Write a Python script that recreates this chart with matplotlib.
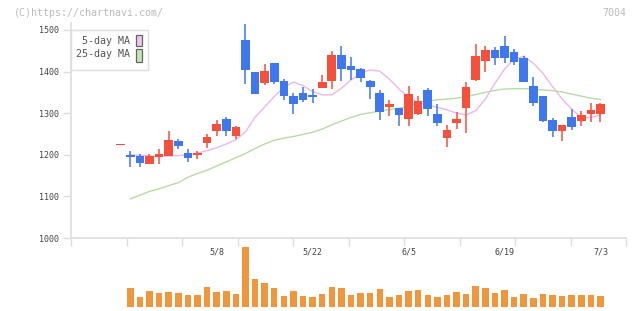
import matplotlib.pyplot as plt
import numpy as np
from matplotlib.patches import Rectangle

# daily candles, index -1 .. 49 (4/19 .. 7/3)
opens = [1223, 1200, 1198, 1179, 1195, 1198, 1233, 1204, 1200, 1229, 1257,
         1286, 1244, 1476, 1399, 1373, 1421, 1377, 1341, 1349, 1344,
         1361, 1377, 1440, 1413, 1406, 1377, 1349, 1316, 1312, 1286,
         1298, 1356, 1298, 1240, 1276, 1312, 1380, 1425, 1452, 1461,
         1447, 1433, 1365, 1341, 1284, 1257, 1291, 1281, 1298, 1298]
highs = [1223, 1209, 1202, 1201, 1214, 1257, 1238, 1214, 1208, 1250, 1283,
         1290, 1269, 1514, 1399, 1418, 1421, 1383, 1349, 1363, 1358,
         1392, 1450, 1461, 1435, 1409, 1380, 1356, 1332, 1312, 1365,
         1341, 1361, 1322, 1272, 1303, 1375, 1466, 1461, 1459, 1485,
         1454, 1437, 1387, 1341, 1288, 1272, 1310, 1305, 1325, 1325]
lows = [1223, 1171, 1171, 1179, 1179, 1198, 1215, 1183, 1189, 1217, 1244,
        1246, 1238, 1370, 1346, 1368, 1370, 1332, 1298, 1327, 1324,
        1361, 1358, 1377, 1380, 1375, 1334, 1284, 1293, 1269, 1269,
        1296, 1293, 1269, 1219, 1262, 1252, 1377, 1399, 1416, 1421,
        1416, 1375, 1317, 1279, 1243, 1233, 1260, 1269, 1279, 1279]
closes = [1223, 1195, 1181, 1197, 1203, 1236, 1222, 1193, 1201, 1243, 1274,
          1257, 1267, 1404, 1346, 1401, 1376, 1342, 1322, 1332, 1339,
          1375, 1440, 1406, 1404, 1385, 1363, 1303, 1322, 1296, 1346,
          1329, 1310, 1276, 1260, 1286, 1363, 1437, 1452, 1433, 1433,
          1423, 1375, 1325, 1281, 1257, 1272, 1267, 1296, 1308, 1322]
volumes = [np.nan, 56, 29, 47, 41, 44, 41, 35, 35, 59, 44,
           47, 38, 182, 83, 71, 56, 32, 47, 32, 29,
           38, 59, 56, 35, 41, 41, 53, 29, 35, 47,
           50, 35, 29, 35, 44, 38, 62, 56, 41, 50,
           29, 38, 26, 38, 35, 32, 35, 35, 35, 32]

ma5 = [np.nan, 1200, 1199, 1197, 1196, 1197, 1198, 1200, 1204, 1210, 1217,
       1226, 1236, 1255, 1290, 1315, 1340, 1362, 1375, 1366, 1352,
       1344, 1344, 1360, 1380, 1396, 1404, 1401, 1382, 1358, 1338,
       1325, 1320, 1314, 1308, 1300, 1296, 1306, 1334, 1372, 1406,
       1430, 1437, 1420, 1396, 1364, 1334, 1310, 1289, 1290, 1296]
ma25 = [np.nan, 1094, 1103, 1112, 1118, 1126, 1133, 1146, 1155, 1163, 1173,
        1183, 1193, 1203, 1215, 1226, 1235, 1240, 1244, 1249, 1254,
        1262, 1272, 1281, 1290, 1297, 1301, 1305, 1309, 1312, 1317,
        1327, 1330, 1332, 1334, 1336, 1340, 1345, 1350, 1355, 1358,
        1359, 1359, 1358, 1356, 1354, 1351, 1346, 1341, 1336, 1333]

date_labels = ['5/8', '5/22', '6/5', '6/19', '7/3']
date_pos = [9, 19, 29, 39, 49]
ma_labels = ['5-day MA', '25-day MA']

UP = '#f4503c'
DOWN = '#3f78ee'
mono = 'DejaVu Sans Mono'
W, H = 640, 311

x = np.arange(len(opens)) - 1
o, h, l, c = map(np.array, (opens, highs, lows, closes))
cols = [UP if cc >= oo else DOWN for oo, cc in zip(o, c)]

fig = plt.figure(figsize=(6.4, 3.11), dpi=100)
ax = fig.add_axes([71/W, 73/H, 555.4/W, 215/H])
vax = fig.add_axes([71/W, 4.4/H, 555.4/W, 59.7/H])

ax.plot(x, ma25, color='#b6dca4', lw=1.0, zorder=1)
ax.plot(x, ma5, color='#ecb8ec', lw=1.0, zorder=1)

ax.vlines(x, l, h, colors=cols, lw=1.1, zorder=2)
body = np.maximum(np.abs(c - o), 3.5)
ax.bar(x, body, bottom=np.minimum(o, c), width=0.9, color=cols, lw=0, zorder=3)

ax.set_xlim(-6.18, 51.7)
ax.set_ylim(1000, 1516.8)

for s in ['top', 'right']:
    ax.spines[s].set_visible(False)
for s in ['left', 'bottom']:
    ax.spines[s].set_color('#dddddd')
    ax.spines[s].set_linewidth(1.2)

ax.set_yticks([1000, 1100, 1200, 1300, 1400, 1500])
ax.tick_params(axis='y', length=6, color='#dddddd', width=1, pad=3,
               labelsize=6, labelcolor='#444444')
ax.set_xticks(np.linspace(-6.18, 51.7, 11))
ax.set_xticklabels([])
ax.tick_params(axis='x', which='major', length=6, color='#dddddd', width=1)
ax.set_xticks(date_pos, minor=True)
ax.set_xticklabels(date_labels, minor=True)
ax.tick_params(axis='x', which='minor', length=0, pad=7,
               labelsize=6, labelcolor='#444444')
for t in ax.get_yticklabels() + ax.get_xticklabels(minor=True):
    t.set_fontfamily(mono)

# legend box drawn by hand (text left, colour swatch right)
def fx(px):
    return px / W

def fy(py):
    return 1 - py / H

fig.patches.append(Rectangle((fx(71), fy(70)), fx(77), 40 / H, transform=fig.transFigure,
                             facecolor='white', edgecolor='#dddddd', lw=1.0, zorder=5))
for lab, ty, sw_top, sw_bot, fc in [(ma_labels[0], 40.7, 35, 46, '#f0c4f0'),
                                     (ma_labels[1], 54.3, 48.5, 62, '#c4e4b0')]:
    fig.text(fx(130), fy(ty), lab, fontsize=7.2, family=mono, color='#555555',
             ha='right', va='center', zorder=6)
    fig.patches.append(Rectangle((fx(136), fy(sw_bot)), fx(6), (sw_bot - sw_top) / H,
                                 transform=fig.transFigure, facecolor=fc,
                                 edgecolor='#666666', lw=0.9, zorder=6))

vax.bar(x, volumes, width=0.68, color='#f0963c', lw=0)
vax.set_xlim(-6.18, 51.7)
vax.set_ylim(0, 182)
vax.axis('off')

fig.text(fx(14), fy(12.5), '(C)https://chartnavi.com/', fontsize=7.2,
         family=mono, color='#bbbbbb', va='center', ha='left')
fig.text(fx(626), fy(12.5), '7004', fontsize=7.2, family=mono,
         color='#bbbbbb', va='center', ha='right')

fig.savefig('out.png', dpi=100)
